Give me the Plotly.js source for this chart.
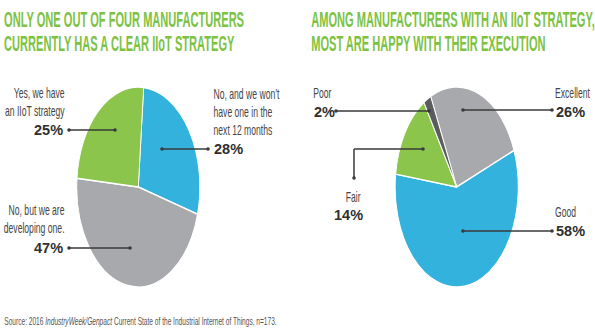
<!DOCTYPE html>
<html><head><meta charset="utf-8">
<script src="https://cdn.plot.ly/plotly-3.0.1.min.js"></script>
<style>
html,body{margin:0;padding:0;width:595px;height:335px;overflow:hidden;background:#fff;}
#a{position:absolute;left:0;top:0;width:967px;height:335px;transform:scaleX(0.6153);transform-origin:0 0;}
#c{position:absolute;left:0;top:0;width:1155px;height:60px;transform:scaleX(0.5152);transform-origin:0 0;}
#b{position:absolute;left:0;top:0;width:595px;height:335px;}
</style></head>
<body><div id="a"></div><div id="c"></div><div id="b"></div>
<script>
// ---- data ----
const leftLabels = ["No, and we won't have one in the next 12 months", "No, but we are developing one.", "Yes, we have an IIoT strategy"];
const leftValues = [28, 47, 25];
const rightLabels = ["Excellent", "Good", "Fair", "Poor"];
const rightValues = [26, 58, 14, 2];
const titleLeft = ["ONLY ONE OUT OF FOUR MANUFACTURERS", "CURRENTLY HAS A CLEAR IIoT STRATEGY"];
const titleRight = ["AMONG MANUFACTURERS WITH AN IIoT STRATEGY,", "MOST ARE HAPPY WITH THEIR EXECUTION"];
const sourceText = "Source: 2016 <i>IndustryWeek/Genpact</i> Current State of the Industrial Internet of Things, n=173.";

// ---- style ----
const BLUE = '#33b2de', GRAY = '#a8a9ac', GREEN = '#8cc54b', DARK = '#5a5c5f';
const TITLE_GREEN = '#7cc243';
const TXT = '#454545', PCT = '#2f2f2f', LINE = '#3a3a3a';
const sans = '"Liberation Sans", Arial, sans-serif';

const WA = 967, H = 335;
function dom(cx, cy, r) { // cx, cy in on-screen px; A space x = cx/0.6153
  const ax = cx / 0.6153;
  return {x: [(ax - r) / WA, (ax + r) / WA], y: [(H - cy - r) / H, (H - cy + r) / H]};
}

const pieCommon = {type: 'pie', sort: false, direction: 'clockwise', textinfo: 'none',
  hoverinfo: 'none', showlegend: false};

const traces = [
  Object.assign({}, pieCommon, {labels: leftLabels, values: leftValues, rotation: 5,
    marker: {colors: [BLUE, GRAY, GREEN], line: {color: '#ffffff', width: 1.5}}, domain: dom(138.3, 187, 100)}),
  Object.assign({}, pieCommon, {labels: rightLabels, values: rightValues, rotation: -25,
    marker: {colors: [GRAY, BLUE, GREEN, DARK], line: {color: '#ffffff', width: 1.5}}, domain: dom(456.7, 187, 100)})
];

function ann(text, x, y, xanchor, opts) {
  return Object.assign({text: text, x: x, y: y, xref: 'x', yref: 'y', xanchor: xanchor, yanchor: 'middle',
    showarrow: false, align: xanchor === 'center' ? 'center' : xanchor,
    font: {family: sans, size: 14, color: TXT}}, opts || {});
}
const ax = {visible: false, fixedrange: true, showgrid: false, zeroline: false};

const annA = [
  ann('Yes, we have<br>an IIoT strategy', 66, 101.5, 'right'),
  ann("No, and we won’t<br>have one in the<br>next 12 months", 212, 112, 'left'),
  ann('No, but we are<br>developing one.', 66, 219, 'right'),
  ann('Poor', 312, 93, 'left'),
  ann('Excellent', 554, 93, 'left'),
  ann('Fair', 353, 197, 'center'),
  ann('Good', 554, 212, 'left'),
  ann(sourceText, 3, 321, 'left', {font: {family: sans, size: 10.7, color: '#555555'}})
];
const layoutA = {width: WA, height: H, margin: {l: 0, r: 0, t: 0, b: 0},
  paper_bgcolor: '#ffffff', plot_bgcolor: '#ffffff',
  xaxis: Object.assign({range: [0, 595]}, ax), yaxis: Object.assign({range: [H, 0]}, ax),
  annotations: annA};
Plotly.newPlot('a', traces, layoutA, {staticPlot: true});

// ---- titles (condensed) ----
const titleFont = {family: sans, size: 21.5, color: TITLE_GREEN, weight: 'bold'};
const annC = [
  ann('<b>' + titleLeft[0] + '</b>', 3, 20, 'left', {font: titleFont}),
  ann('<b>' + titleLeft[1] + '</b>', 3, 44, 'left', {font: titleFont}),
  ann('<b>' + titleRight[0] + '</b>', 310, 20, 'left', {font: titleFont}),
  ann('<b>' + titleRight[1] + '</b>', 310, 44, 'left', {font: titleFont})
];
const layoutC = {width: 1155, height: 60, margin: {l: 0, r: 0, t: 0, b: 0},
  paper_bgcolor: 'rgba(0,0,0,0)', plot_bgcolor: 'rgba(0,0,0,0)',
  xaxis: Object.assign({range: [0, 595]}, ax), yaxis: Object.assign({range: [60, 0]}, ax),
  annotations: annC};
Plotly.newPlot('c', [], layoutC, {staticPlot: true});

// ---- overlay: percentages + leader lines (unscaled) ----
const pf = {family: sans, size: 14.5, color: PCT, weight: 'bold'};
const pct = v => '<b>' + v + '%</b>';
const annB = [
  ann(pct(leftValues[2]), 65, 130, 'right', {font: pf}),
  ann(pct(leftValues[0]), 212, 149, 'left', {font: pf}),
  ann(pct(leftValues[1]), 65, 248, 'right', {font: pf}),
  ann(pct(rightValues[3]), 312, 112, 'left', {font: pf}),
  ann(pct(rightValues[0]), 554, 112, 'left', {font: pf}),
  ann(pct(rightValues[2]), 348, 215, 'center', {font: pf}),
  ann(pct(rightValues[1]), 554, 231, 'left', {font: pf})
];
function seg(x0, y0, x1, y1) {
  return {type: 'line', xref: 'x', yref: 'y', x0: x0, y0: y0, x1: x1, y1: y1, line: {color: LINE, width: 1.5}};
}
function dot(x, y) {
  return {type: 'circle', xref: 'x', yref: 'y', x0: x - 1.8, x1: x + 1.8, y0: y - 1.8, y1: y + 1.8,
    fillcolor: LINE, line: {width: 0}};
}
const shapes = [
  seg(69, 130, 115, 130), dot(115, 130), dot(69, 130),
  seg(162, 149, 208, 149), dot(162, 149), dot(208, 149),
  seg(69, 248, 130, 248), dot(130, 248), dot(69, 248),
  seg(336, 111, 429, 111), dot(429, 111), dot(336, 111),
  seg(463, 110, 552, 110), dot(463, 110), dot(552, 110),
  seg(423, 149, 354, 149), seg(354, 149, 354, 178), dot(423, 149), dot(354, 178),
  seg(463, 231, 552, 231), dot(463, 231), dot(552, 231)
];
const layoutB = {width: 595, height: H, margin: {l: 0, r: 0, t: 0, b: 0},
  paper_bgcolor: 'rgba(0,0,0,0)', plot_bgcolor: 'rgba(0,0,0,0)',
  xaxis: Object.assign({range: [0, 595]}, ax), yaxis: Object.assign({range: [H, 0]}, ax),
  annotations: annB, shapes: shapes};
Plotly.newPlot('b', [], layoutB, {staticPlot: true});
</script></body></html>
